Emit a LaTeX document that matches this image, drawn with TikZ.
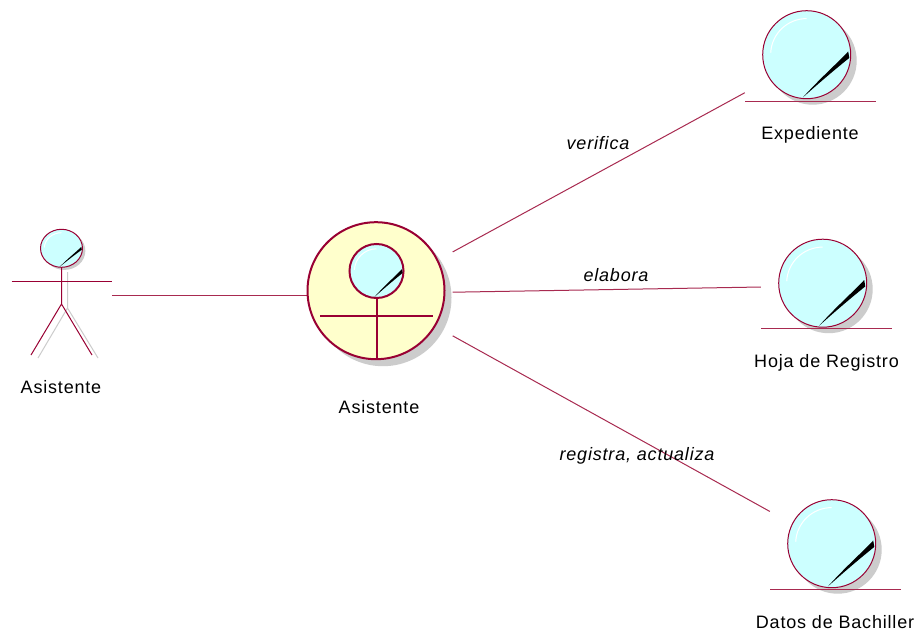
\documentclass[tikz,border=0pt]{standalone}
\usepackage{fontspec}
\setmainfont[LetterSpace=4.5]{Liberation Sans}
\definecolor{rosered}{HTML}{990033}
\definecolor{roselink}{HTML}{A82A50}
\definecolor{rosecyan}{HTML}{CCFFFF}
\definecolor{roseyellow}{HTML}{FFFFCC}
\definecolor{roseshadow}{HTML}{CCCCCC}
\tikzset{
  link/.style={draw=roselink,line width=1pt},
  label/.style={inner sep=0pt,font=\fontsize{18}{20}\selectfont,text=black},
  linklabel/.style={label,font=\fontsize{18}{20}\selectfont\itshape},
  box/.style={draw=none,fill=none,inner sep=0pt,minimum width=#1},
  pics/ballshadow/.style={code={\fill[roseshadow] (6,6) ellipse[x radius=44,y radius=44];}},
  pics/ball/.style={code={
    \filldraw[fill=rosecyan,draw=rosered,line width=#1] (0,0) circle[radius=44];
    \draw[white,line width=1pt] (-36,-2) arc[start angle=183,end angle=270,radius=36];
    \fill[black] (-3.7,42.6) .. controls (15,22) and (28,11) .. (41.5,-3.2) -- (42.6,3.2) .. controls (28,15) and (15,26) .. cycle;
  }},
}
\begin{document}
\begin{tikzpicture}[x=1pt,y=-1pt]
\useasboundingbox (0,0) rectangle (923,632);
\fill[white] (0,0) rectangle (923,632);
% invisible bounding boxes that connectors attach to
\node[box=101pt,minimum height=130pt] (actor) at (61.5,295) {};
\node[box=153pt,minimum height=140pt] (mid) at (376,293.5) {};
\node[box=131pt,minimum height=94pt] (expe) at (810.5,57.2) {};
\node[box=131pt,minimum height=94pt] (hoja) at (826.5,285.9) {};
\node[box=131pt,minimum height=94pt] (datos) at (835.5,547.6) {};
\node[box=137pt,minimum height=137pt,circle] (midc) at (376,290.7) {};

% connectors
\draw[link] (actor.east) -- (actor.east -| midc.west);
\draw[link] (mid) -- (expe);
\draw[link] (mid) -- (hoja);
\draw[link] (mid) -- (datos);

% actor
\draw[roseshadow,line width=1pt] (67.5,272) -- (67.5,308) (38,358) -- (67.5,308) -- (98,358);
\pic[xscale=.477,yscale=.432] at (61.5,248.3) {ballshadow};
\pic[xscale=.477,yscale=.432] at (61.5,248.3) {ball=1pt};
\draw[rosered,line width=1pt] (61.5,267.3) -- (61.5,304) (31,355) -- (61.5,304) -- (92,355);
\draw[rosered,line width=1pt] (11.5,281) -- (112,281);

% central worker
\fill[roseshadow] (383,297.7) circle[radius=68.5];
\filldraw[fill=roseyellow,draw=rosered,line width=2pt] (midc.center) circle[radius=68.5];
\pic[scale=.614] at (376.5,271) {ball=2pt};
\draw[rosered,line width=2pt] (376.5,298) -- (376.5,359) (320,316) -- (433,316);

% entities
\pic at (806.7,54.7) {ballshadow};
\pic at (806.7,54.7) {ball=1pt};
\draw[link] (745,101) -- (876,101);
\pic at (822.7,283.2) {ballshadow};
\pic at (822.7,283.2) {ball=1pt};
\draw[link] (761,328) -- (892,328);
\pic at (831.7,543.7) {ballshadow};
\pic at (831.7,543.7) {ball=1pt};
\draw[link] (770,589) -- (901,589);

% labels
\node[label] (t1) at (61,387) {Asistente};
\node[label] (t2) at (379,407) {Asistente};
\node[label] (t3) at (810,135) {Expediente};
\node[label] (t4) at (826.5,363) {Hoja de Registro};
\node[label] (t5) at (835,622.5) {Datos de Bachiller};
\node[linklabel] (l1) at (598,143.5) {verifica};
\node[linklabel] (l2) at (616,275) {elabora};
\node[linklabel] (l3) at (637,456) {registra, actualiza};
\end{tikzpicture}
\end{document}
